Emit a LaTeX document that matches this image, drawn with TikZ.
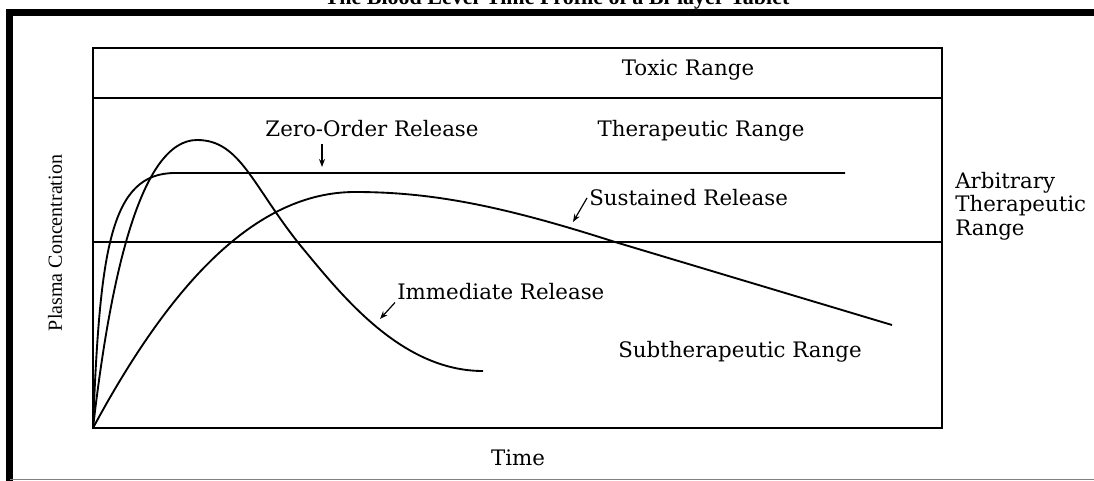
\documentclass[tikz,border=0pt]{standalone}
\usepackage{fontspec}
\setmainfont{DejaVu Serif}
\newfontfamily\timesfont{Liberation Serif}
\usetikzlibrary{arrows.meta}

\begin{document}
\begin{tikzpicture}[x=0.75pt,y=-0.75pt,
  lbl/.style={inner sep=1.5pt,font=\fontsize{16}{17.6}\selectfont},
  curve/.style={line width=1.4pt},
  rangeline/.style={line width=1.1pt},
  arr/.style={-{Stealth[length=6pt,width=4.5pt]},line width=0.9pt}]
\useasboundingbox (0,0) rectangle (1094,481);
% title, cut at the top edge
\node[anchor=base,font=\timesfont\bfseries\fontsize{16.5}{19}\selectfont] (title) at (557,5) {The Blood Level-Time Profile of a Bi-layer Tablet};
% outer frame
\draw[line width=5.3pt] (9.7,481) -- (9.7,12.7) -- (1094,12.7);
\draw[gray,line width=0.8pt] (9.7,479.5) -- (1094,479.5);
% plot box and ranges
\draw[rangeline] (93,48) rectangle (942,428);
\draw[rangeline] (93,98) -- (942,98);
\draw[rangeline] (93,242) -- (942,242);
% zero-order release
\draw[curve] (93,428) .. controls (100,250) and (110,173) .. (175,173) -- (845,173);
% immediate release
\draw[curve] (93,428) .. controls (110,280) and (140,140) .. (197,140)
  .. controls (240,140) and (252,185) .. (300,245)
  .. controls (340,293) and (400,371) .. (483,371);
% sustained release
\draw[curve] (93,428) .. controls (170,285) and (255,192) .. (355,192)
  .. controls (430,192) and (500,205) .. (615,242) -- (892,325);
% labels
\node[lbl] (toxic) at (688,70) {Toxic Range};
\node[lbl] (thera) at (701,131) {Therapeutic Range};
\node[lbl] (zero) at (372,129) {Zero-Order Release};
\node[lbl,anchor=west] (sus) at (587,198) {Sustained Release};
\node[lbl,anchor=west] (imm) at (395,292) {Immediate Release};
\node[lbl] (sub) at (740,352) {Subtherapeutic Range};
\node[lbl,anchor=west,align=left] (arb) at (953,206) {Arbitrary\\Therapeutic\\Range};
\node[font=\timesfont\fontsize{15}{18}\selectfont,rotate=90] (ylab) at (55,243) {Plasma Concentration};
\node[lbl] (time) at (518,458) {Time};
% arrows to the curves
\coordinate (zt) at (322,167);
\coordinate (st) at (573,222);
\coordinate (it) at (380,319);
\draw[arr] ([yshift=-3pt]zt |- zero.south) -- (zt);
\draw[arr] (sus.west) -- (st);
\draw[arr] (imm.south west) -- (it);
\end{tikzpicture}
\end{document}
